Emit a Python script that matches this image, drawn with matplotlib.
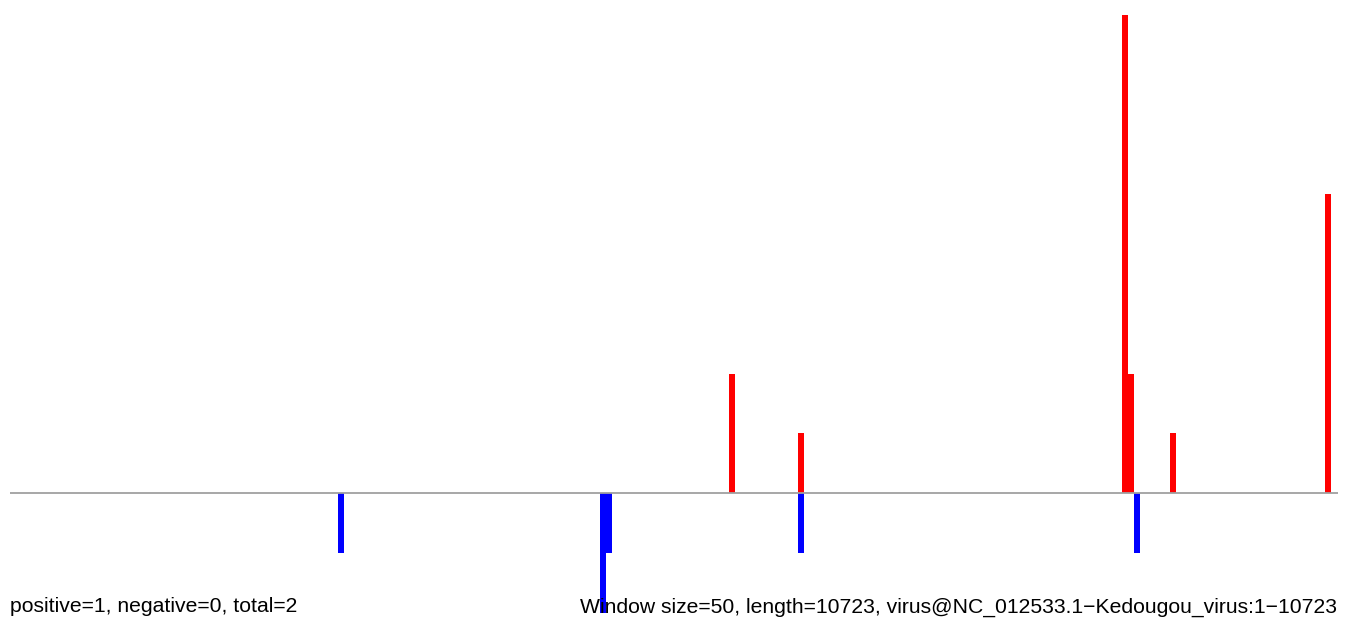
import matplotlib.pyplot as plt

# window start positions (bp) and counts per window
genome_length = 10723
window_size = 50

pos_positions = [5805, 6363, 8975, 9025, 9366, 10618]
pos_counts = [2, 1, 8, 2, 1, 5]

neg_positions = [2648, 4760, 4810, 6363, 9075]
neg_counts = [1, 2, 1, 1, 1]

left_text = "positive=1, negative=0, total=2"
right_text = "Window size=50, length=10723, virus@NC_012533.1\u2212Kedougou_virus:1\u221210723"

plt.rcParams['font.family'] = ['Liberation Sans', 'DejaVu Sans']

W, H = 1350, 619
fig = plt.figure(figsize=(W / 100, H / 100), dpi=100)
ax = fig.add_axes([10 / W, (H - 612.7) / H, 1328 / W, (612.7 - 15) / H])

ax.bar(pos_positions, pos_counts, width=window_size, align='edge', color='#ff0000',
       linewidth=0, antialiased=False)
ax.bar(neg_positions, [-c for c in neg_counts], width=window_size, align='edge', color='#0000ff',
       linewidth=0, antialiased=False)
ax.axhline(0, color='#a0a0a0', linewidth=1.3, zorder=3)

ax.set_xlim(0, genome_length)
ax.set_ylim(-2, 8)
ax.axis('off')

fig.text(10 / W, 1 - 612.3 / H, left_text, ha='left', va='baseline', fontsize=15.25, zorder=10)
fig.text(1337 / W, 1 - 612.3 / H, right_text, ha='right', va='baseline', fontsize=15.25, zorder=10)

plt.savefig("out.png", dpi=100)
